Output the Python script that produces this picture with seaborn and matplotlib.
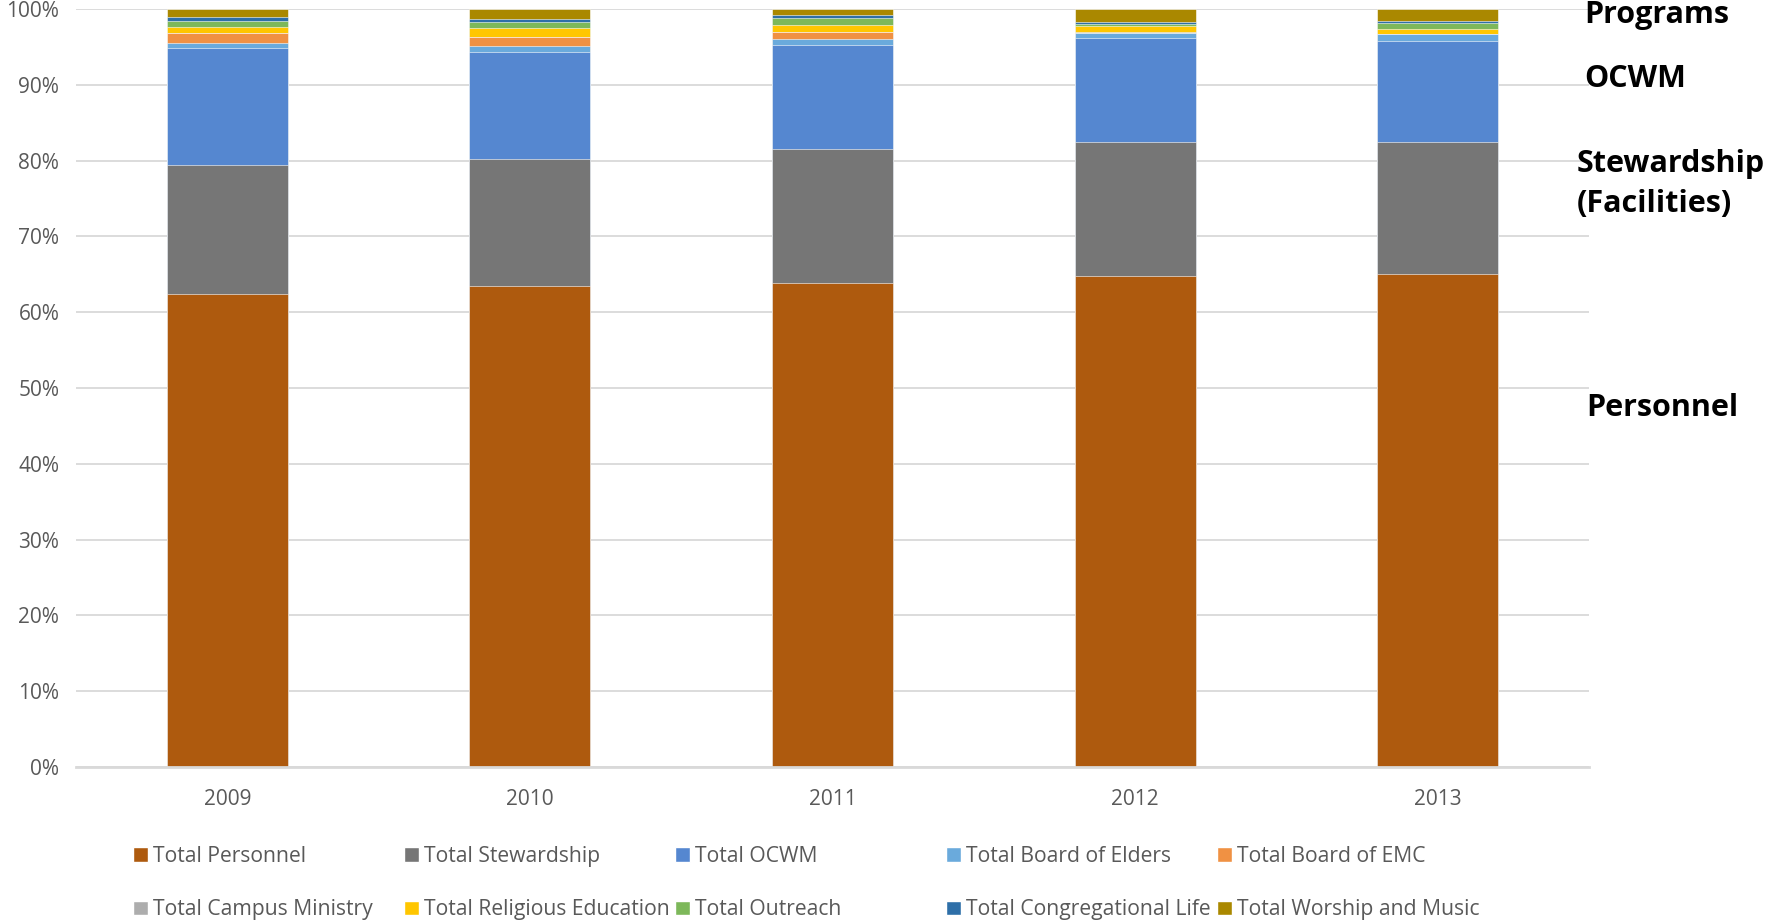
import numpy as np
import pandas as pd
import seaborn as sns
import matplotlib
matplotlib.use("Agg")
import matplotlib.pyplot as plt
from matplotlib.patches import Patch

years = ["2009", "2010", "2011", "2012", "2013"]

personnel    = [62.4, 63.5, 63.8, 64.7, 65.0]
stewardship  = [17.0, 16.7, 17.7, 17.7, 17.4]
ocwm         = [15.5, 14.1, 13.8, 13.7, 13.4]
elders       = [0.66, 0.79, 0.75, 0.75, 0.84]
emc          = [1.32, 1.23, 0.97, 0.00, 0.00]
campus       = [0.00, 0.00, 0.00, 0.10, 0.00]
religious_ed = [0.70, 1.10, 0.88, 0.79, 0.66]
outreach     = [0.88, 0.84, 0.88, 0.26, 0.79]
cong_life    = [0.44, 0.40, 0.40, 0.22, 0.26]
worship      = [1.10, 1.32, 0.84, 1.76, 1.63]

series_names = ["Total Personnel", "Total Stewardship", "Total OCWM",
                "Total Board of Elders", "Total Board of EMC",
                "Total Campus Ministry", "Total Religious Education",
                "Total Outreach", "Total Congregational Life",
                "Total Worship and Music"]
series_vals = [personnel, stewardship, ocwm, elders, emc, campus,
               religious_ed, outreach, cong_life, worship]
colors = ["#AE5A0E", "#767676", "#5587D0", "#6AAADC", "#F09143",
          "#ADADAD", "#FFC600", "#7DB85A", "#2E6FA8", "#AA8800"]

sns.set_theme(style="white")
plt.rcParams["font.family"] = ["Open Sans", "DejaVu Sans"]

W, H = 1771, 923
fig = plt.figure(figsize=(W / 100, H / 100), dpi=100)
ax = fig.add_axes([76 / W, 1 - 767 / H, (1589 - 76) / W, (767 - 9) / H])

df = pd.DataFrame(np.array(series_vals).T, columns=series_names, index=years)
pct = df.div(df.sum(axis=1), axis=0) * 100
cum = pct.cumsum(axis=1)

# draw from top layer down so each lower cumulative bar covers the upper one
for name, col in reversed(list(zip(series_names, colors))):
    sns.barplot(x=years, y=cum[name].values, color=col, saturation=1,
                width=0.4, ax=ax, edgecolor="white", linewidth=0.4)

ax.set_ylim(0, 100)
ax.set_xlim(-0.5, 4.5)
ax.set_yticks(np.arange(0, 101, 10))
ax.set_yticklabels([f"{v}%" for v in range(0, 101, 10)])
ax.yaxis.grid(True, color="#D9D9D9", linewidth=1.3)
ax.set_axisbelow(True)
for s in ["top", "right", "left"]:
    ax.spines[s].set_visible(False)
ax.spines["bottom"].set_color("#D9D9D9")
ax.spines["bottom"].set_linewidth(2)
ax.tick_params(axis="both", length=0, labelsize=15, labelcolor="#595959")
ax.tick_params(axis="x", pad=16)
ax.tick_params(axis="y", pad=12)
ax.set_xlabel("")
ax.set_ylabel("")

# legend: 5 equal-width columns, 2 rows
col_x = [133, 404, 675, 946, 1217]
for c in range(5):
    handles = [Patch(facecolor=colors[c]), Patch(facecolor=colors[c + 5])]
    labels = [series_names[c], series_names[c + 5]]
    fig.legend(handles, labels, loc="center left",
               bbox_to_anchor=(col_x[c] / W, 1 - 883 / H),
               frameon=False, fontsize=15.2, labelcolor="#595959",
               handlelength=0.7, handleheight=0.7, handletextpad=0.25,
               borderpad=0, borderaxespad=0, labelspacing=1.55)

# right-hand group labels
lab_kw = dict(fontsize=22, fontweight="bold", color="black", va="center", ha="left")
fig.text(1584 / W, 1 - 15 / H, "Programs", **lab_kw)
fig.text(1584 / W, 1 - 79 / H, "OCWM", **lab_kw)
fig.text(1577 / W, 1 - 184 / H, "Stewardship\n(Facilities)", linespacing=1.45, **lab_kw)
fig.text(1586 / W, 1 - 408 / H, "Personnel", **lab_kw)

fig.savefig("out.png", dpi=100)
